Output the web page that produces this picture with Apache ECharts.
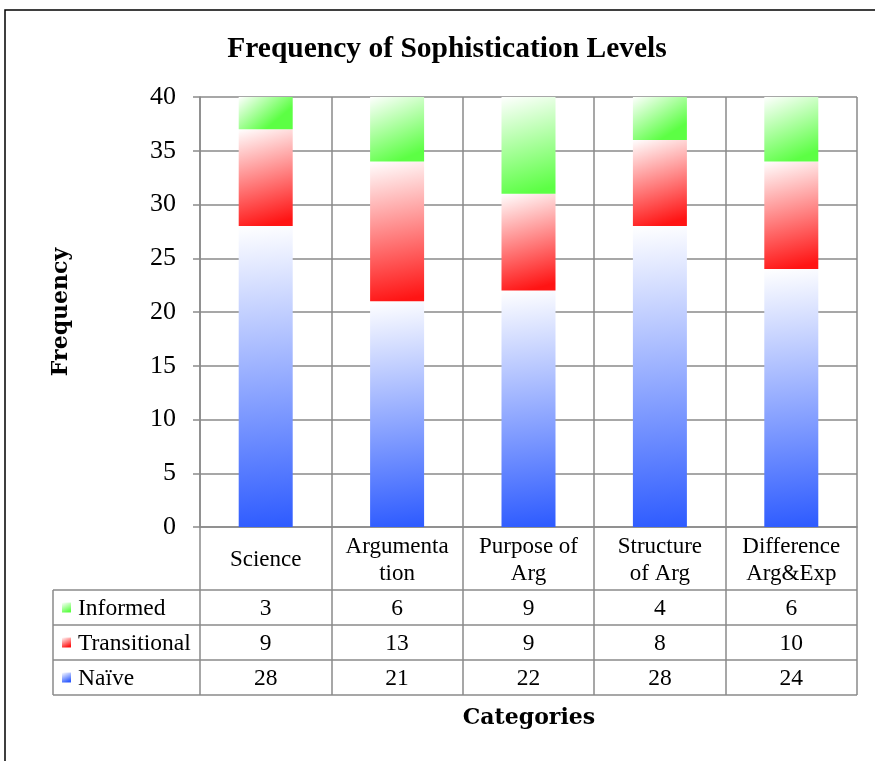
<!DOCTYPE html>
<html>
<head>
<meta charset="utf-8">
<script src="https://cdn.jsdelivr.net/npm/echarts@6/dist/echarts.min.js"></script>
<style>
  html, body { margin: 0; padding: 0; background: #fff; }
  #chart { width: 875px; height: 761px; }
</style>
</head>
<body>
<div id="chart"></div>
<script>
// data
const categories = ["Science", "Argumenta\ntion", "Purpose of\nArg", "Structure\nof Arg", "Difference\nArg&Exp"];
const naive = [28, 21, 22, 28, 24];
const transitional = [9, 13, 9, 8, 10];
const informed = [3, 6, 9, 4, 6];
const yTicks = [0, 5, 10, 15, 20, 25, 30, 35, 40];

const serif = "Liberation Serif";
const boldFont = "DejaVu Serif";
const gridColor = "#8a8a8a";

// gradient helper: pale top-left to full colour bottom-right
function grad(col) {
  return new echarts.graphic.LinearGradient(0, 0, 0.5, 1, [
    { offset: 0, color: "#ffffff" },
    { offset: 1, color: col },
  ]);
}
const blue = "#2f5cff";
const red = "#ff1414";
const green = "#5cff44";

const chart = echarts.init(document.getElementById("chart"));

const barStyle = (col) => ({
  color: grad(col),
  shadowBlur: 5,
  shadowColor: "rgba(0,0,0,0.25)",
  shadowOffsetX: 1,
  shadowOffsetY: 1,
});

const option = {
  animation: false,
  grid: { left: 200, right: 18, top: 97, bottom: 234 },
  xAxis: {
    type: "category",
    data: categories,
    axisLine: { show: true, lineStyle: { color: gridColor, width: 1.5 } },
    axisTick: { show: true, length: 168, lineStyle: { color: gridColor, width: 1.5 } },
    splitLine: { show: true, lineStyle: { color: gridColor, width: 1.5 } },
    axisLabel: {
      interval: 0,
      margin: 33,
      verticalAlign: "middle",
      fontFamily: serif,
      fontSize: 23,
      lineHeight: 27,
      color: "#000",
    },
  },
  yAxis: {
    type: "value",
    min: 0,
    max: 40,
    interval: 5,
    name: "Frequency",
    nameLocation: "middle",
    nameRotate: 90,
    nameGap: 128,
    nameTextStyle: { fontFamily: boldFont, fontWeight: "bold", fontSize: 22, color: "#000" },
    axisLine: { show: true, lineStyle: { color: gridColor, width: 1.5 } },
    axisTick: { show: true, length: 7, lineStyle: { color: gridColor, width: 1.5 } },
    splitLine: { show: true, lineStyle: { color: gridColor, width: 1.5 } },
    axisLabel: {
      margin: 24,
      fontFamily: serif,
      fontSize: 26,
      color: "#000",
      formatter: (v) => (yTicks.includes(v) ? String(v) : ""),
    },
  },
  series: [
    { name: "Naïve", type: "bar", stack: "t", barWidth: 54, data: naive, itemStyle: barStyle(blue) },
    { name: "Transitional", type: "bar", stack: "t", barWidth: 54, data: transitional, itemStyle: barStyle(red) },
    { name: "Informed", type: "bar", stack: "t", barWidth: 54, data: informed, itemStyle: barStyle(green) },
  ],
};
chart.setOption(option);

// data table under the axis
const rows = [
  { name: "Informed", values: informed, col: green },
  { name: "Transitional", values: transitional, col: red },
  { name: "Naïve", values: naive, col: blue },
];
const tableLeft = 53;
const tableRight = 857;
const rowTop = 590;
const rowH = 35;
const g = [];

// outer frame
g.push({ type: "rect", shape: { x: 5, y: 10, width: 900, height: 800 }, style: { fill: "none", stroke: "#000", lineWidth: 1.5 }, silent: true });

// title
g.push({
  type: "text", x: 447, y: 49,
  style: { text: "Frequency of Sophistication Levels", font: "bold 29.5px '" + serif + "'", fill: "#000", align: "center", verticalAlign: "middle" },
});

// horizontal lines
for (let r = 0; r <= rows.length; r++) {
  g.push({ type: "line", shape: { x1: tableLeft, y1: rowTop + r * rowH, x2: tableRight, y2: rowTop + r * rowH }, style: { stroke: gridColor, lineWidth: 1.5 } });
}
g.push({ type: "line", shape: { x1: tableLeft, y1: rowTop, x2: tableLeft, y2: rowTop + rows.length * rowH }, style: { stroke: gridColor, lineWidth: 1.5 } });

rows.forEach((row, r) => {
  const cy = rowTop + r * rowH + rowH / 2;
  g.push({ type: "rect", shape: { x: 62, y: cy - 5, width: 9, height: 10 }, style: { fill: grad(row.col) } });
  g.push({ type: "text", x: 78, y: cy + 1, style: { text: row.name, font: "23.5px '" + serif + "'", fill: "#000", verticalAlign: "middle" } });
  row.values.forEach((v, i) => {
    const cx = chart.convertToPixel({ xAxisIndex: 0 }, i);
    g.push({ type: "text", x: cx, y: cy + 1, style: { text: String(v), font: "23.5px '" + serif + "'", fill: "#000", align: "center", verticalAlign: "middle" } });
  });
});

// x axis title
g.push({
  type: "text", x: 529, y: 718,
  style: { text: "Categories", font: "bold 22px '" + boldFont + "'", fill: "#000", align: "center", verticalAlign: "middle" },
});

chart.setOption({ graphic: g });
</script>
</body>
</html>
